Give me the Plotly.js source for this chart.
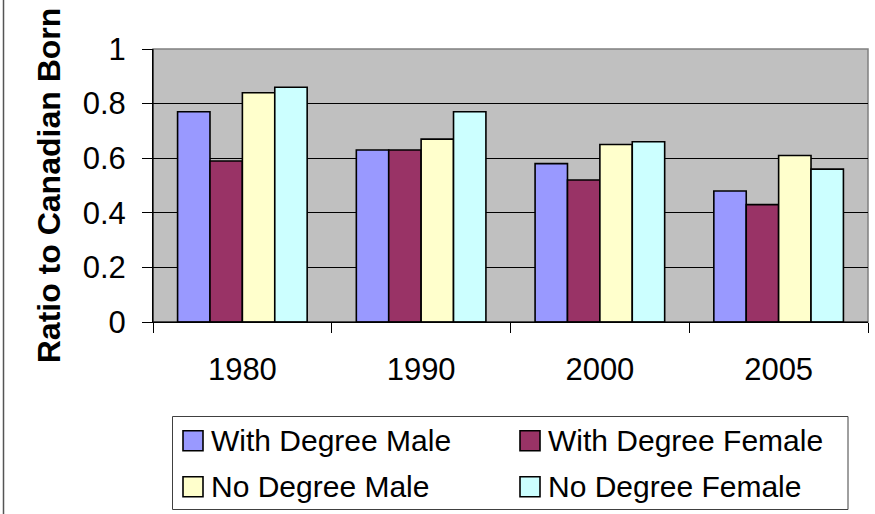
<!DOCTYPE html>
<html><head><meta charset="utf-8">
<script src="https://cdn.plot.ly/plotly-3.0.1.min.js"></script>
<style>html,body{margin:0;padding:0;background:#fff}#chart{width:875px;height:514px}</style>
</head><body><div id="chart"></div>
<script>
const years = ["1980", "1990", "2000", "2005"];
const seriesNames = ["With Degree Male", "With Degree Female", "No Degree Male", "No Degree Female"];
const withDegreeMale = [0.77, 0.63, 0.58, 0.48];
const withDegreeFemale = [0.59, 0.63, 0.52, 0.43];
const noDegreeMale = [0.84, 0.67, 0.65, 0.61];
const noDegreeFemale = [0.86, 0.77, 0.66, 0.56];
const yAxisTitle = "Ratio to Canadian Born";

const colors = ["#9999FF", "#993366", "#FFFFCC", "#CCFFFF"];
const values = [withDegreeMale, withDegreeFemale, noDegreeMale, noDegreeFemale];

const traces = values.map((v, i) => ({
  type: "bar", x: years, y: v, name: seriesNames[i],
  marker: {color: colors[i], line: {color: "#000", width: 1.6}},
  hoverinfo: "x+y+name"
}));

const W = 875, H = 514, L = 153, R = 7, T = 49, B = 192;
const pw = W - L - R, ph = H - T - B;
const px = x => (x - L) / pw;
const py = y => (H - B - y) / ph;

const fam = "'Liberation Sans', Arial, sans-serif";
const axFont = {family: fam, size: 31, color: "#000"};
const legFont = {family: fam, size: 30, color: "#000"};

// legend layout (pixel slots): columns and rows
const legCols = [183, 520];
const legRows = [440.7, 486.7];
const sw = 20;

const shapes = [
  {type: "rect", xref: "paper", yref: "paper", x0: 0, x1: 1, y0: 0, y1: 1, line: {color: "#808080", width: 1.5}, layer: "below"},
  {type: "line", xref: "paper", yref: "paper", x0: 0, x1: 0, y0: 0, y1: 1, line: {color: "#000", width: 1}},
  {type: "line", xref: "paper", yref: "paper", x0: 0, x1: 1, y0: 0, y1: 0, line: {color: "#000", width: 1}},
  {type: "rect", xref: "paper", yref: "paper", x0: px(172.5), x1: px(848), y0: py(416.5), y1: py(509.5), line: {color: "#404040", width: 1}, fillcolor: "rgba(0,0,0,0)"},
  {type: "line", xref: "paper", yref: "paper", x0: px(3.5), x1: px(3.5), y0: py(0), y1: py(514), line: {color: "#555", width: 1.5}}
];
const annotations = [];
seriesNames.forEach((name, i) => {
  const cx = legCols[i % 2], cy = legRows[Math.floor(i / 2)];
  shapes.push({type: "rect", xref: "paper", yref: "paper",
    x0: px(cx), x1: px(cx + sw), y0: py(cy - sw / 2), y1: py(cy + sw / 2),
    fillcolor: colors[i], line: {color: "#000", width: 1.6}});
  annotations.push({xref: "paper", yref: "paper", x: px(cx + sw + 6), y: py(cy),
    xanchor: "left", yanchor: "middle", text: name, showarrow: false, font: legFont});
});

const layout = {
  width: W, height: H,
  margin: {l: L, r: R, t: T, b: B, pad: 0},
  paper_bgcolor: "#fff", plot_bgcolor: "#C0C0C0",
  bargap: 0.275, bargroupgap: 0,
  showlegend: false,
  xaxis: {
    type: "category", tickfont: axFont, showgrid: false, zeroline: false,
    showline: true, linecolor: "#000", linewidth: 1,
    ticks: "outside", tickson: "boundaries", ticklen: 10, tickcolor: "#000", tickwidth: 1,
    ticklabelstandoff: 20, automargin: false, fixedrange: true
  },
  yaxis: {
    range: [0, 1], dtick: 0.2, tick0: 0, tickfont: axFont,
    showgrid: true, gridcolor: "#000", gridwidth: 1, zeroline: false,
    showline: true, linecolor: "#000", linewidth: 1,
    ticks: "outside", ticklen: 10, tickcolor: "#000", tickwidth: 1,
    ticklabelstandoff: 10, automargin: false, fixedrange: true,
    title: {text: "<b>" + yAxisTitle + "</b>", font: {family: fam, size: 32, color: "#000"}, standoff: 12}
  },
  shapes: shapes,
  annotations: annotations
};

Plotly.newPlot("chart", traces, layout, {displayModeBar: false});
</script></body></html>
